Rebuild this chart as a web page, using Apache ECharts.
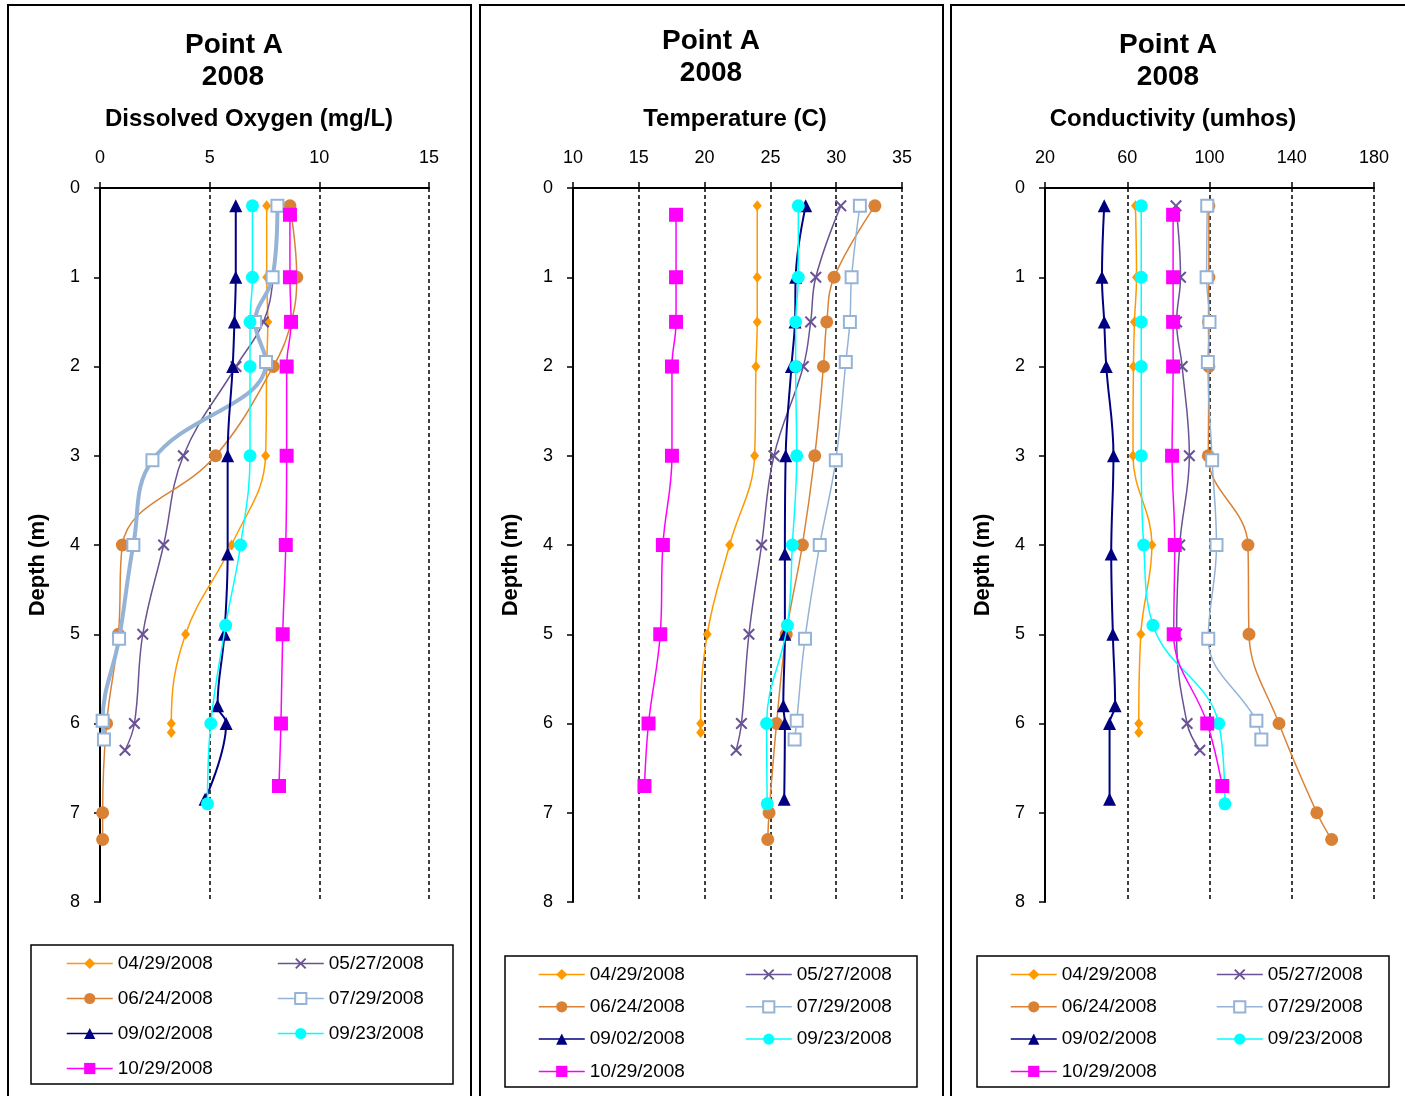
<!DOCTYPE html>
<html><head><meta charset="utf-8">
<script src="https://cdn.jsdelivr.net/npm/echarts@6/dist/echarts.min.js"></script>
<style>html,body{margin:0;padding:0;background:#fff}#c{width:1405px;height:1096px}</style>
</head><body><div id="c"></div>
<script>
const dates = ['04/29/2008','05/27/2008','06/24/2008','07/29/2008','09/02/2008','09/23/2008','10/29/2008'];
const doTicks = [0,5,10,15];
const tempTicks = [10,15,20,25,30,35];
const condTicks = [20,60,100,140,180];
const depthTicks = [0,1,2,3,4,5,6,7,8];

const depth0429 = [0.2,1,1.5,2,3,4,5,6,6.1];
const do0429   = [7.6,7.6,7.65,7.6,7.55,6.0,3.9,3.25,3.25];
const temp0429 = [24.0,24.0,24.0,23.9,23.8,21.9,20.2,19.7,19.7];
const cond0429 = [64,64.5,63.5,63,62.8,72,66.6,65.6,65.6];

const depth0527 = [0.2,1,1.5,2,3,4,5,6,6.3];
const do0527   = [8.1,7.9,7.45,6.2,3.8,2.9,1.95,1.57,1.14];
const temp0527 = [30.35,28.45,28.06,27.5,25.27,24.33,23.37,22.8,22.4];
const cond0527 = [83.7,85.9,84,86.7,90.2,85.5,84,89.1,95.3];

const depth0624 = [0.2,1,1.5,2,3,4,5,6,7,7.3];
const do0624   = [8.66,8.97,8.72,7.9,5.27,1.02,0.84,0.3,0.12,0.12];
const temp0624 = [32.94,29.84,29.28,29.03,28.37,27.43,26.2,25.47,24.9,24.8];
const cond0624 = [99.7,99.7,99.5,99.7,99.4,118.7,119.2,133.8,152.2,159.4];

const depth0729 = [0.2,1,1.5,1.95,3.05,4,5.05,5.97,6.18];
const do0729   = [8.09,7.87,7.07,7.57,2.39,1.52,0.87,0.12,0.18];
const temp0729 = [31.8,31.17,31.04,30.73,29.97,28.75,27.63,27.0,26.84];
const cond0729 = [98.9,98.6,100,99.2,101.3,103.4,99.4,122.8,125.2];

const depth0902 = [0.2,1,1.5,2,3,4.1,5,5.8,6,6.85];
const do0902   = [6.19,6.19,6.13,6.05,5.82,5.82,5.67,5.36,5.75,4.79];
const temp0902 = [27.68,26.92,26.87,26.6,26.16,26.1,26.1,25.98,26.1,26.05];
const cond0902 = [48.8,47.7,48.8,49.8,53.3,52.2,53,54.1,51.4,51.4];

const depth0923 = [0.2,1,1.5,2,3,4,4.9,6,6.9];
const do0923   = [6.95,6.95,6.84,6.84,6.84,6.41,5.73,5.05,4.9];
const temp0923 = [27.12,27.12,26.92,26.92,27.0,26.67,26.29,24.71,24.76];
const cond0923 = [66.8,66.8,66.8,66.8,66.8,68,72.5,104.5,107.5];

const depth1029 = [0.3,1,1.5,2,3,4,5,6,6.7];
const do1029   = [8.66,8.66,8.71,8.51,8.51,8.47,8.33,8.25,8.16];
const temp1029 = [17.83,17.83,17.83,17.52,17.52,16.83,16.63,15.74,15.43];
const cond1029 = [82.3,82.3,82.3,82.3,81.8,83.1,82.6,98.9,106.2];

const FONT = "Arial, 'Liberation Sans', sans-serif";
const xPath = 'path://M0,1.2L1.2,0L5,3.8L8.8,0L10,1.2L6.2,5L10,8.8L8.8,10L5,6.2L1.2,10L0,8.8L3.8,5Z';

const styles = [
  {color:'#FF9900', symbol:'diamond', size:[9,11], w:1.5},
  {color:'#6A5394', symbol:xPath, size:12, w:1.5},
  {color:'#D98236', symbol:'circle', size:13, w:1.5},
  {color:'#95B3D7', symbol:'rect', size:12, w:1.5, hollow:true},
  {color:'#000080', symbol:'triangle', size:13, w:2},
  {color:'#00FFFF', symbol:'circle', size:13, w:1.5},
  {color:'#FF00FF', symbol:'rect', size:14, w:1.5}
];

const panels = [
  [[depth0429,do0429],[depth0527,do0527],[depth0624,do0624],[depth0729,do0729],[depth0902,do0902],[depth0923,do0923],[depth1029,do1029]],
  [[depth0429,temp0429],[depth0527,temp0527],[depth0624,temp0624],[depth0729,temp0729],[depth0902,temp0902],[depth0923,temp0923],[depth1029,temp1029]],
  [[depth0429,cond0429],[depth0527,cond0527],[depth0624,cond0624],[depth0729,cond0729],[depth0902,cond0902],[depth0923,cond0923],[depth1029,cond1029]]
];

const series = [];
panels.forEach((p, gi) => {
  p.forEach(([dep, vals], si) => {
    const st = styles[si];
    let w = st.w;
    if (gi === 0 && si === 3) w = 4;
    series.push({
      type:'line', name: dates[si], xAxisIndex: gi, yAxisIndex: gi,
      data: dep.map((d,i) => [vals[i], d]),
      smooth: 0.4,
      symbol: st.symbol, symbolSize: st.size,
      lineStyle: {color: st.color, width: w},
      itemStyle: st.hollow ? {color:'#fff', borderColor: st.color, borderWidth: 2} : {color: st.color, borderWidth: 0},
      emphasis: {disabled: true},
      z: 2 + si
    });
  });
});

const gridLefts = [100, 573, 1045];
const ticksList = [doTicks, tempTicks, condTicks];
const grids = gridLefts.map(l => ({left: l, top: 188, width: 329, height: 714, containLabel: false}));

const xAxes = ticksList.map((t, i) => ({
  type:'value', gridIndex: i, position:'top', min: t[0], max: t[t.length-1], interval: t[1]-t[0],
  axisLine: {show:true, onZero:false, lineStyle:{color:'#000', width:2}},
  axisTick: {show:true, length:6, lineStyle:{color:'#000', width:1.5}, customValues: t},
  axisLabel: {fontSize:18, color:'#000', fontFamily: FONT, margin: 21, customValues: t},
  splitLine: {show:true, lineStyle:{color:'#000', width:1.5, type:[4,3]}}
}));
const yAxes = [0,1,2].map(i => ({
  type:'value', gridIndex: i, inverse: true, min: depthTicks[0], max: depthTicks[depthTicks.length-1], interval: 1,
  axisLine: {show:true, onZero:false, lineStyle:{color:'#000', width:2}},
  axisTick: {show:true, length:6, lineStyle:{color:'#000', width:1.5}},
  axisLabel: {fontSize:18, color:'#000', fontFamily: FONT, margin: 20},
  splitLine: {show:false}
}));

const col1 = [dates[0], dates[2], dates[4], dates[6]];
const col2 = [dates[1], dates[3], dates[5]];
function mkLegend(left, top, data, gap) {
  return {
    orient:'vertical', left, top, data, itemWidth: 46, itemHeight: 14, itemGap: gap,
    padding: 0, selectedMode: false,
    lineStyle: {width: 1.5},
    textStyle: {fontSize: 19, color:'#000', fontFamily: FONT}
  };
}
const legends = [
  mkLegend(66, 954, col1, 16), mkLegend(277, 954, col2, 16),
  mkLegend(538, 965, col1, 13.3), mkLegend(745, 965, col2, 13.3),
  mkLegend(1010, 965, col1, 13.3), mkLegend(1216, 965, col2, 13.3)
];

function txt(x, y, text, size, bold, rot) {
  return {type:'text', x, y, rotation: rot || 0, z: 100,
    style:{text, fill:'#000', font: (bold?'bold ':'') + size + 'px ' + FONT, textAlign:'center', textVerticalAlign:'middle', verticalAlign:'middle'}};
}
function box(x, y, w, h, lw) {
  return {type:'rect', shape:{x, y, width:w, height:h}, z: 0, silent: true,
    style:{fill:null, stroke:'#000', lineWidth: lw}};
}
const graphics = [
  box(8, 5, 463, 1100, 2), box(480, 5, 463, 1100, 2), box(951, 5, 470, 1100, 2),
  box(31, 945, 422, 139, 1.5), box(505, 956, 412, 131, 1.5), box(977, 956, 412, 131, 1.5),
  txt(234, 45, 'Point A', 28, true), txt(233, 77, '2008', 28, true),
  txt(711, 41, 'Point A', 28, true), txt(711, 73, '2008', 28, true),
  txt(1168, 45, 'Point A', 28, true), txt(1168, 77, '2008', 28, true),
  txt(249, 119, 'Dissolved Oxygen (mg/L)', 24, true),
  txt(735, 119, 'Temperature (C)', 24, true),
  txt(1173, 119, 'Conductivity (umhos)', 24, true),
  txt(38, 565, 'Depth (m)', 22, true, Math.PI/2),
  txt(511, 565, 'Depth (m)', 22, true, Math.PI/2),
  txt(983, 565, 'Depth (m)', 22, true, Math.PI/2)
];

const chart = echarts.init(document.getElementById('c'), null, {renderer:'canvas'});
chart.setOption({
  animation: false,
  backgroundColor: '#fff',
  grid: grids, xAxis: xAxes, yAxis: yAxes,
  legend: legends,
  graphic: graphics,
  series
});
</script></body></html>
